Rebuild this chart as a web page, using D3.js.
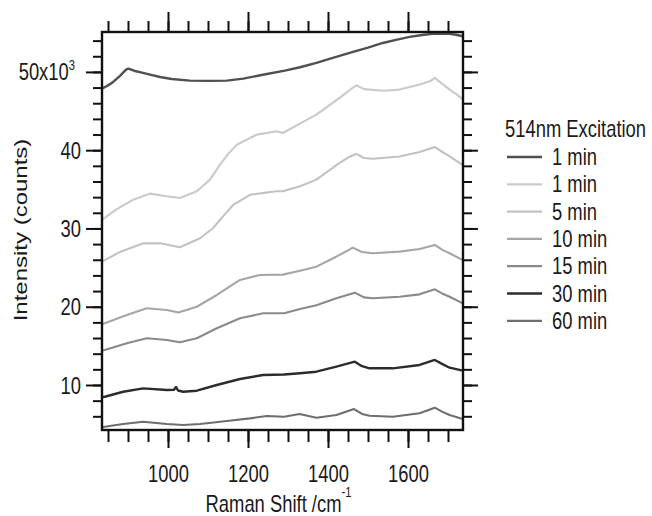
<!DOCTYPE html>
<html>
<head>
<meta charset="utf-8">
<script src="https://cdn.jsdelivr.net/npm/d3@7"></script>
<style>
  html, body { margin: 0; padding: 0; background: #fff; }
  svg { display: block; }
  text { font-family: "Liberation Sans", Arial, sans-serif; fill: #1a1a1a; }
</style>
</head>
<body>
<svg id="chart" width="652" height="516"></svg>
<script>
// Raman spectra under 514 nm excitation, intensity in thousands of counts
const spectrum1minA = [[836,47.9],[842,48.05],[860,48.6],[880,49.5],[895,50.3],[901,50.42],[915,50.15],[935,49.9],[955,49.66],[980,49.35],[1009,49.1],[1055,48.89],[1100,48.85],[1147,48.89],[1188,49.14],[1247,49.74],[1292,50.17],[1330,50.6],[1371,51.15],[1410,51.75],[1454,52.43],[1500,53.1],[1537,53.7],[1570,54.1],[1604,54.47],[1640,54.75],[1662,54.86],[1704,54.86],[1720,54.75],[1737,54.56]];
const spectrum1minB = [[836,31.2],[842,31.34],[870,32.4],[913,33.68],[955,34.45],[997,34.11],[1030,33.9],[1072,34.75],[1105,36.24],[1130,38.16],[1150,39.5],[1172,40.7],[1222,41.99],[1272,42.42],[1287,42.2],[1330,43.4],[1371,44.55],[1429,46.68],[1455,47.7],[1471,48.3],[1490,47.8],[1504,47.74],[1540,47.6],[1579,47.74],[1629,48.38],[1655,48.8],[1667,49.23],[1685,48.5],[1704,47.74],[1720,47.2],[1737,46.5]];
const spectrum5min = [[836,25.8],[842,25.95],[880,27.0],[938,28.1],[980,28.1],[1030,27.6],[1080,28.75],[1113,30.06],[1140,31.7],[1163,33.0],[1205,34.3],[1240,34.55],[1272,34.75],[1287,34.75],[1330,35.4],[1371,36.24],[1429,38.37],[1455,39.2],[1471,39.52],[1490,39.0],[1512,38.9],[1579,39.2],[1629,39.78],[1667,40.4],[1685,39.8],[1704,39.2],[1737,38.1]];
const spectrum10min = [[836,17.8],[842,17.88],[897,18.94],[947,19.8],[997,19.58],[1026,19.25],[1072,20.0],[1122,21.5],[1180,23.42],[1230,24.06],[1287,24.1],[1330,24.6],[1371,25.12],[1413,26.19],[1450,27.2],[1462,27.55],[1485,27.0],[1512,26.83],[1579,27.04],[1629,27.38],[1667,27.9],[1685,27.3],[1704,26.83],[1737,25.97]];
const spectrum15min = [[836,14.4],[842,14.47],[897,15.33],[947,15.97],[997,15.75],[1030,15.46],[1072,15.97],[1122,17.25],[1180,18.52],[1238,19.16],[1290,19.16],[1330,19.7],[1371,20.2],[1421,21.08],[1467,21.8],[1490,21.2],[1512,21.08],[1579,21.28],[1629,21.58],[1667,22.22],[1685,21.7],[1704,21.28],[1737,20.44]];
const spectrum30min = [[836,8.45],[842,8.5],[888,9.14],[938,9.57],[997,9.36],[1015,9.4],[1020,9.75],[1025,9.3],[1038,9.14],[1072,9.27],[1122,10.0],[1180,10.77],[1238,11.28],[1290,11.35],[1330,11.5],[1371,11.7],[1421,12.34],[1467,12.98],[1485,12.4],[1504,12.13],[1562,12.13],[1629,12.56],[1667,13.2],[1685,12.7],[1704,12.21],[1737,11.83]];
const spectrum60min = [[836,4.6],[842,4.67],[888,5.02],[938,5.31],[997,5.02],[1038,4.89],[1080,5.02],[1147,5.4],[1205,5.74],[1247,6.04],[1290,5.95],[1329,6.29],[1371,5.82],[1421,6.17],[1465,6.93],[1485,6.3],[1504,6.08],[1562,5.95],[1629,6.38],[1667,7.1],[1685,6.6],[1704,6.17],[1737,5.66]];

const seriesLabels = ["1 min", "1 min", "5 min", "10 min", "15 min", "30 min", "60 min"];
const seriesColors = ["#505050", "#cacaca", "#c2c2c2", "#a6a6a6", "#8a8a8a", "#2c2c2c", "#6e6e6e"];
const seriesData = [spectrum1minA, spectrum1minB, spectrum5min, spectrum10min, spectrum15min, spectrum30min, spectrum60min];

const xMajorTicks = [1000, 1200, 1400, 1600];
const yMajorTicks = [10, 20, 30, 40, 50];
const legendTitle = "514nm Excitation";

const SX = 0.8; // horizontal squeeze for lettering
const FONT = 23;

const svg = d3.select("#chart");
const plot = { left: 102, right: 463, top: 32, bottom: 430 };

const x = d3.scaleLinear().domain([835, 1737.5]).range([plot.left, plot.right]);
const y = d3.scaleLinear().domain([4.25, 55.1]).range([plot.bottom, plot.top]);

const xMinor = d3.range(850, 1701, 50);
const yMinor = d3.range(6, 55, 2);

// clip for spectra
svg.append("defs").append("clipPath").attr("id", "plotClip")
  .append("rect").attr("x", plot.left).attr("y", plot.top)
  .attr("width", plot.right - plot.left).attr("height", plot.bottom - plot.top);

const line = d3.line().x(d => x(d[0])).y(d => y(d[1])).curve(d3.curveLinear);

svg.append("g").attr("clip-path", "url(#plotClip)")
  .selectAll("path").data(seriesData).join("path")
  .attr("d", line)
  .attr("fill", "none")
  .attr("stroke", (d, i) => seriesColors[i])
  .attr("stroke-width", (d, i) => (i === 0 || i === 5) ? 2.4 : 2.1)
  .attr("stroke-linejoin", "round");

function styleAxis(g) {
  g.select(".domain").remove();
  g.selectAll(".tick line").attr("stroke", "#111").attr("stroke-width", 2);
}

// minor ticks on all four sides
svg.append("g").attr("transform", `translate(0,${plot.bottom})`)
  .call(d3.axisBottom(x).tickValues(xMinor).tickSize(12).tickFormat("")).call(styleAxis);
svg.append("g").attr("transform", `translate(0,${plot.top})`)
  .call(d3.axisTop(x).tickValues(xMinor).tickSize(11).tickFormat("")).call(styleAxis);
svg.append("g").attr("transform", `translate(${plot.left},0)`)
  .call(d3.axisLeft(y).tickValues(yMinor).tickSize(9).tickFormat("")).call(styleAxis);
svg.append("g").attr("transform", `translate(${plot.right},0)`)
  .call(d3.axisRight(y).tickValues(yMinor).tickSize(9).tickFormat("")).call(styleAxis);

// major ticks
const xAxisBottom = svg.append("g").attr("transform", `translate(0,${plot.bottom})`)
  .call(d3.axisBottom(x).tickValues(xMajorTicks).tickSize(18).tickPadding(0).tickFormat(d3.format("d")))
  .call(styleAxis);
svg.append("g").attr("transform", `translate(0,${plot.top})`)
  .call(d3.axisTop(x).tickValues(xMajorTicks).tickSize(20).tickFormat("")).call(styleAxis);
const yAxisLeft = svg.append("g").attr("transform", `translate(${plot.left},0)`)
  .call(d3.axisLeft(y).tickValues(yMajorTicks).tickSize(16).tickPadding(0).tickFormat(d3.format("d")))
  .call(styleAxis);
svg.append("g").attr("transform", `translate(${plot.right},0)`)
  .call(d3.axisRight(y).tickValues(yMajorTicks).tickSize(15).tickFormat("")).call(styleAxis);

// tick label lettering
xAxisBottom.selectAll(".tick text")
  .attr("font-size", FONT).attr("font-family", null).attr("fill", "#1a1a1a")
  .attr("y", null).attr("dy", null)
  .attr("transform", `translate(0,52) scale(${SX},1)`);

yAxisLeft.selectAll(".tick text")
  .attr("font-size", FONT).attr("font-family", null).attr("fill", "#1a1a1a")
  .attr("x", null).attr("dy", "0.35em")
  .attr("transform", `translate(-21,0) scale(${SX},1)`);

yAxisLeft.selectAll(".tick text").filter(d => d === 50)
  .text("50x10")
  .attr("transform", `translate(-27,0) scale(${SX},1)`)
  .append("tspan").attr("font-size", 14).attr("dy", "-0.75em").text("3");

// plot frame
svg.append("rect")
  .attr("x", plot.left).attr("y", plot.top)
  .attr("width", plot.right - plot.left).attr("height", plot.bottom - plot.top)
  .attr("fill", "none").attr("stroke", "#111").attr("stroke-width", 2.4);

// axis titles
const xTitle = svg.append("text")
  .attr("transform", `translate(${(plot.left + plot.right) / 2 - 4},512) scale(${SX},1)`)
  .attr("text-anchor", "middle").attr("font-size", FONT);
xTitle.append("tspan").text("Raman Shift /cm");
xTitle.append("tspan").attr("font-size", 14).attr("dy", "-1.05em").text("-1");

svg.append("text")
  .attr("transform", `translate(27,230) scale(${SX},1) rotate(-90)`)
  .attr("text-anchor", "middle").attr("font-size", 24)
  .text("Intensity (counts)");

// legend
const legend = svg.append("g");
legend.append("text").attr("transform", `translate(505,137) scale(${SX},1)`)
  .attr("font-size", FONT).text(legendTitle);

const legendRow = d3.scaleLinear().domain([0, 6]).range([157, 320.8]);
const rows = legend.selectAll("g.row").data(seriesLabels).join("g").attr("class", "row");
rows.append("line")
  .attr("x1", 507).attr("x2", 542)
  .attr("y1", (d, i) => legendRow(i)).attr("y2", (d, i) => legendRow(i))
  .attr("stroke", (d, i) => seriesColors[i])
  .attr("stroke-width", (d, i) => (i === 0 || i === 5) ? 2.6 : 2.2);
rows.append("text")
  .attr("transform", (d, i) => `translate(552,${legendRow(i) + 8}) scale(${SX},1)`)
  .attr("font-size", FONT).text(d => d);
</script>
</body>
</html>
